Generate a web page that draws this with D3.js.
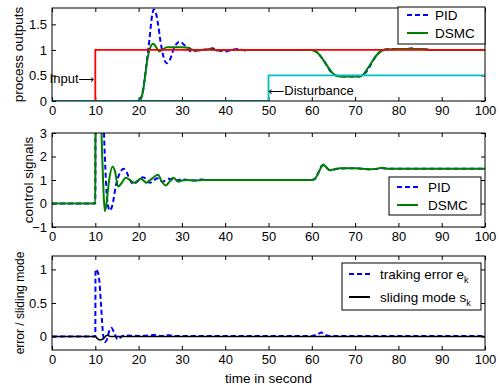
<!DOCTYPE html>
<html>
<head>
<meta charset="utf-8">
<script src="https://cdn.jsdelivr.net/npm/d3@7"></script>
<style>
  body { margin: 0; background: #fff; }
  text { font-family: "Liberation Sans", Arial, sans-serif; }
</style>
</head>
<body>
<div id="chart"></div>
<script>
const width = 500;
const height = 385;

// x ticks shared by the three panels
const xTicks = [0, 10, 20, 30, 40, 50, 60, 70, 80, 90, 100];

// panel 1: process outputs
const inputT = [0, 10, 10, 100];
const inputY = [0, 0, 1, 1];
const disturbT = [0, 50, 50, 100];
const disturbY = [0, 0, 0.5, 0.5];
const pidOutT = [0, 19.5, 20, 20.5, 21, 21.5, 22, 22.5, 23, 23.5, 24, 24.5, 25, 25.7, 26.5, 27.3, 28.2, 29.5, 30.5, 31.5, 32.5, 34, 36, 37, 38.5, 40, 41.5, 43, 44.5, 46, 60, 60.5, 62, 63, 64, 65, 66, 68, 71, 72, 73, 74, 75, 76, 77, 79, 82, 83, 84, 86, 88, 100];
const pidOutY = [0, 0, 0.01, 0.05, 0.2, 0.5, 0.85, 1.2, 1.6, 1.79, 1.72, 1.5, 1.2, 0.88, 0.74, 0.82, 1.04, 1.16, 1.1, 1.0, 0.97, 1.0, 1.01, 1.03, 0.99, 0.97, 1.0, 1.02, 0.99, 1.0, 1.0, 0.99, 0.88, 0.76, 0.62, 0.52, 0.49, 0.48, 0.48, 0.52, 0.62, 0.77, 0.9, 0.98, 1.01, 1.02, 1.02, 1.03, 1.02, 1.01, 1.0, 1.0];
const dsmcOutT = [0, 19.5, 20, 20.5, 21, 21.5, 22, 22.5, 23, 23.4, 24, 24.8, 25.5, 26.5, 28, 30, 31.5, 32.5, 34, 36.5, 38, 40, 60, 60.5, 61.5, 62.5, 63.3, 64.3, 65.3, 66.5, 71, 72, 73, 74, 75, 76, 77, 80, 86, 87, 100];
const dsmcOutY = [0, 0, 0.01, 0.04, 0.18, 0.48, 0.8, 1.0, 1.1, 1.12, 1.06, 0.97, 1.0, 1.05, 1.05, 1.05, 1.04, 1.0, 0.99, 1.02, 0.99, 1.0, 1.0, 0.98, 0.93, 0.82, 0.72, 0.6, 0.51, 0.48, 0.48, 0.53, 0.65, 0.78, 0.9, 0.97, 1.01, 1.02, 1.02, 1.0, 1.0];

// panel 2: control signals
const pidCtrlT = [0, 10, 10.05, 11.8, 12.1, 12.6, 13.0, 13.4, 13.9, 14.8, 16, 16.5, 17.2, 18, 18.8, 19.8, 21, 22, 22.6, 23.5, 24.3, 25.5, 27, 28.5, 30, 31.5, 33, 34.5, 36, 60, 60.7, 61.5, 62.3, 62.7, 63.5, 64.3, 65.2, 67, 70, 73, 75, 76.3, 78, 100];
const pidCtrlY = [0, 0, 4, 4, 2.5, 0.5, -0.15, -0.3, -0.1, 0.8, 1.4, 1.48, 1.35, 1.0, 0.83, 0.95, 1.12, 1.0, 0.88, 0.98, 1.07, 0.93, 1.05, 0.98, 1.03, 1.0, 0.98, 1.02, 1.0, 1.0, 1.05, 1.3, 1.6, 1.63, 1.5, 1.41, 1.45, 1.49, 1.5, 1.46, 1.47, 1.5, 1.48, 1.48];
const dsmcCtrlT = [0, 10, 10.05, 11.2, 11.6, 11.9, 12.2, 12.5, 13.2, 14, 14.5, 15.3, 16, 17, 18, 19, 20.5, 21, 21.8, 23, 24.5, 25.3, 26.3, 27, 28, 29.2, 30, 31, 33, 35, 60, 60.7, 61.5, 62.2, 62.6, 63.3, 64.2, 65, 66.5, 70, 73, 74.5, 76.3, 77.5, 100];
const dsmcCtrlY = [0, 0, 4, 4, 2, 0.5, -0.32, -0.1, 1.0, 1.57, 1.4, 0.72, 0.85, 1.1, 1.0, 0.88, 1.05, 1.0, 0.88, 1.05, 1.22, 0.95, 0.77, 0.9, 1.1, 0.93, 0.98, 1.0, 0.98, 1.0, 1.0, 1.04, 1.3, 1.55, 1.66, 1.55, 1.42, 1.45, 1.5, 1.5, 1.46, 1.47, 1.52, 1.48, 1.48];

// panel 3: tracking error and sliding mode
const errT = [0, 10, 10.05, 10.5, 10.9, 11.3, 11.7, 12.0, 12.3, 12.8, 13.2, 13.7, 14.3, 15.0, 15.4, 16, 17, 20, 23, 24, 25, 27, 28, 60, 61.5, 62.2, 63, 64, 100];
const errY = [0, 0, 1.0, 0.97, 0.85, 0.5, 0.1, -0.05, -0.08, -0.02, 0.08, 0.13, 0.07, -0.03, -0.04, 0, 0.015, 0.01, 0.02, 0.025, 0.01, 0.02, 0.01, 0.01, 0.04, 0.06, 0.03, 0.01, 0.01];
const slideT = [0, 10, 10.5, 11, 11.7, 12.3, 12.8, 13.5, 100];
const slideY = [0, 0, -0.03, -0.05, -0.04, 0, 0.02, 0, 0];

const zip = (t, y) => t.map((d, i) => ({t: d, v: y[i]}));

const svg = d3.select("#chart").append("svg")
    .attr("width", width)
    .attr("height", height);

const x = d3.scaleLinear().domain([0, 100]).range([52, 485]);

const panels = [
  {
    id: "p1", top: 8, bottom: 101, domain: [0, 1.82], yTicks: [0, 0.5, 1, 1.5],
    label: "process outputs", labelX: 18, labelSize: 13.5,
    series: [
      {data: zip(pidOutT, pidOutY), color: "#0000ff", dash: "5,3", w: 2, smooth: true},
      {data: zip(dsmcOutT, dsmcOutY), color: "#008000", w: 2, smooth: true},
      {data: zip(inputT, inputY), color: "#ff0000", w: 1.8},
      {data: zip(disturbT, disturbY), color: "#00bfbf", w: 1.8}
    ],
    legend: {x: 398, y: 7, w: 87, h: 37, lineX: 407, textX: 435, rows: [15, 33],
      items: [{name: "PID", color: "#0000ff", dash: "5,3"}, {name: "DSMC", color: "#008000"}]}
  },
  {
    id: "p2", top: 133, bottom: 227, domain: [-1, 3], yTicks: [-1, 0, 1, 2, 3],
    label: "control signals", labelX: 28, labelSize: 13.5,
    series: [
      {data: zip(pidCtrlT, pidCtrlY), color: "#0000ff", dash: "5,3", w: 2, smooth: true},
      {data: zip(dsmcCtrlT, dsmcCtrlY), color: "#008000", w: 2, smooth: true}
    ],
    legend: {x: 389, y: 177, w: 92, h: 38, lineX: 397, textX: 428, rows: [187, 205],
      items: [{name: "PID", color: "#0000ff", dash: "5,3"}, {name: "DSMC", color: "#008000"}]}
  },
  {
    id: "p3", top: 256, bottom: 350, domain: [-0.2, 1.2], yTicks: [0, 0.5, 1],
    label: "error / sliding mode", labelX: 20, labelSize: 12,
    series: [
      {data: zip(errT, errY), color: "#0000ff", dash: "5,3", w: 2, smooth: true},
      {data: zip(slideT, slideY), color: "#000000", w: 1.6, smooth: true}
    ],
    legend: {x: 342, y: 263, w: 139, h: 47, lineX: 349, textX: 380, rows: [274, 297],
      items: [{name: "traking error e", sub: "k", color: "#0000ff", dash: "5,3"},
              {name: "sliding mode s", sub: "k", color: "#000000"}]}
  }
];

panels.forEach(p => {
  const y = d3.scaleLinear().domain(p.domain).range([p.bottom, p.top]);
  const g = svg.append("g").attr("id", p.id);

  g.append("clipPath").attr("id", "clip-" + p.id)
    .append("rect")
      .attr("x", x(0)).attr("y", p.top)
      .attr("width", x(100) - x(0)).attr("height", p.bottom - p.top);

  // axes with inward ticks on all four sides
  const fmt = d3.format("");
  g.append("g").attr("transform", `translate(0,${p.bottom})`)
    .call(d3.axisBottom(x).tickValues(xTicks).tickSize(-4).tickPadding(5).tickFormat(fmt));
  g.append("g").attr("transform", `translate(0,${p.top})`)
    .call(d3.axisTop(x).tickValues(xTicks).tickSize(-4).tickFormat(""));
  g.append("g").attr("transform", `translate(${x(0)},0)`)
    .call(d3.axisLeft(y).tickValues(p.yTicks).tickSize(-4).tickPadding(5).tickFormat(fmt));
  g.append("g").attr("transform", `translate(${x(100)},0)`)
    .call(d3.axisRight(y).tickValues(p.yTicks).tickSize(-4).tickFormat(""));
  g.selectAll(".domain").remove();
  g.selectAll(".tick line").attr("stroke", "#000");
  g.selectAll(".tick text").attr("font-size", 13).attr("fill", "#000")
    .attr("font-family", "Liberation Sans, Arial, sans-serif");

  const plot = g.append("g").attr("clip-path", `url(#clip-${p.id})`);
  p.series.forEach(s => {
    const line = d3.line()
      .x(d => x(d.t))
      .y(d => y(d.v))
      .curve(s.smooth ? d3.curveMonotoneX : d3.curveLinear);
    plot.append("path")
      .datum(s.data)
      .attr("d", line)
      .attr("fill", "none")
      .attr("stroke", s.color)
      .attr("stroke-width", s.w)
      .attr("stroke-dasharray", s.dash || null)
      .attr("stroke-linejoin", "round");
  });

  // frame
  g.append("rect")
    .attr("x", x(0)).attr("y", p.top)
    .attr("width", x(100) - x(0)).attr("height", p.bottom - p.top)
    .attr("fill", "none").attr("stroke", "#000").attr("stroke-width", 1);

  // y label
  g.append("text")
    .attr("transform", `translate(${p.labelX},${(p.top + p.bottom) / 2}) rotate(-90)`)
    .attr("text-anchor", "middle")
    .attr("dy", "0.35em")
    .attr("font-size", p.labelSize)
    .text(p.label);

  // legend
  const L = p.legend;
  const lg = g.append("g").attr("class", "legend");
  lg.append("rect")
    .attr("x", L.x).attr("y", L.y).attr("width", L.w).attr("height", L.h)
    .attr("fill", "#fff").attr("stroke", "#000").attr("stroke-width", 1);
  L.items.forEach((it, i) => {
    lg.append("line")
      .attr("x1", L.lineX).attr("x2", L.lineX + 21)
      .attr("y1", L.rows[i]).attr("y2", L.rows[i])
      .attr("stroke", it.color).attr("stroke-width", 2)
      .attr("stroke-dasharray", it.dash || null);
    const t = lg.append("text")
      .attr("x", L.textX).attr("y", L.rows[i]).attr("dy", "0.35em")
      .attr("font-size", 13.5)
      .text(it.name);
    if (it.sub) {
      t.append("tspan").attr("font-size", 9).attr("dy", 4).text(it.sub);
    }
  });
});

// annotations on the first panel (matlab style long arrows)
const y1 = d3.scaleLinear().domain([0, 1.82]).range([101, 8]);
const annotations = [
  {text: "Input", arrow: "\u27F6", t: 10, v: 0.445, anchor: "end", dx: -1},
  {text: "Disturbance", arrow: "\u27F5", t: 50, v: 0.21, anchor: "start", dx: 0}
];
annotations.forEach(d => {
  const t = svg.append("text")
    .attr("x", x(d.t) + d.dx)
    .attr("y", y1(d.v))
    .attr("dy", "0.35em")
    .attr("text-anchor", d.anchor)
    .attr("font-size", 13);
  if (d.anchor === "end") {
    t.append("tspan").text(d.text);
    t.append("tspan").attr("font-family", "DejaVu Sans").attr("font-size", 11).text(d.arrow);
  } else {
    t.append("tspan").attr("font-family", "DejaVu Sans").attr("font-size", 11).text(d.arrow);
    t.append("tspan").text(d.text);
  }
});

// x axis title
svg.append("text")
  .attr("x", (x(0) + x(100)) / 2)
  .attr("y", 378)
  .attr("dy", "0.35em")
  .attr("text-anchor", "middle")
  .attr("font-size", 13.5)
  .text("time in second");
</script>
</body>
</html>
